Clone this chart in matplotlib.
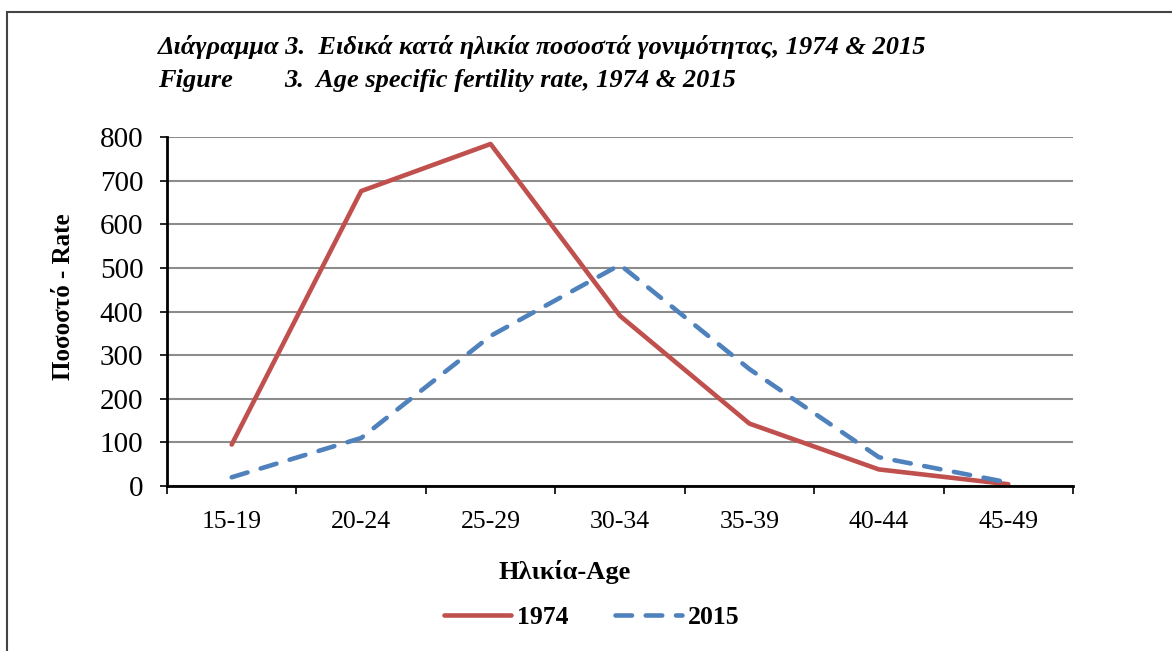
import numpy as np
import matplotlib.pyplot as plt
from matplotlib.patches import Rectangle

ages = ['15-19', '20-24', '25-29', '30-34', '35-39', '40-44', '45-49']
rate_1974 = [95, 676, 784, 390, 143, 38, 4]
rate_2015 = [20, 110, 344, 507, 268, 66, 8]

plt.rcParams['font.family'] = ['Liberation Serif', 'DejaVu Serif']
plt.rcParams['mathtext.default'] = 'regular'

W, H = 1172, 651
fig = plt.figure(figsize=(W/100, H/100), dpi=100)
ax = fig.add_axes([167/W, 1-486/H, (1073-167)/W, (486-137)/H])

x = np.arange(len(ages))
ax.plot(x, rate_1974, color='#C0504D', lw=3.3, solid_capstyle='round', label='1974')
ax.plot(x, rate_2015, color='#4F81BD', lw=3.3, dashes=(3.6, 3.0), dash_capstyle='round',
        label='2015')

ax.set_xlim(-0.5, len(ages)-0.5)
ax.set_ylim(0, 800)
ax.set_yticks(range(0, 801, 100))
ax.yaxis.grid(True, color='#8c8c8c', lw=1.5)
ax.set_axisbelow(True)
ax.set_xticks(x)
ax.set_xticklabels(ages)
ax.set_xticks(np.arange(-0.5, len(ages)), minor=True)
ax.tick_params(axis='x', which='major', length=0, pad=18, labelsize=18.5)
ax.tick_params(axis='x', which='minor', length=6, width=1.2, direction='out')
ax.tick_params(axis='y', length=5, width=1.2, direction='out', pad=12, labelsize=21)
for s in ['top', 'right']:
    ax.spines[s].set_visible(False)
for s in ['left', 'bottom']:
    ax.spines[s].set_linewidth(2)

ax.set_xlabel('Ηλικία-Age', fontsize=19, fontweight='bold', va='center')
ax.xaxis.set_label_coords((565-167)/906, (486-572)/349)
ax.set_ylabel('Ποσοστό - Rate', fontsize=18, fontweight='bold', va='center')
ax.yaxis.set_label_coords((63-167)/906, (486-297)/349)

fig.text(158/W, 1-47/H, 'Διάγραμμα 3.  Ειδικά κατά ηλικία ποσοστά γονιμότητας, 1974 & 2015',
         fontsize=19, fontweight='bold', style='italic', va='center')
fig.text(158/W, 1-80/H, 'Figure', fontsize=19, fontweight='bold', style='italic', va='center')
fig.text(284/W, 1-80/H, '3.  Age specific fertility rate, 1974 & 2015',
         fontsize=19, fontweight='bold', style='italic', va='center')

fig.legend(loc='center', bbox_to_anchor=(592/W, 1-617/H), ncol=2, frameon=False,
           prop={'weight': 'bold', 'size': 18.5}, handlelength=2.6, columnspacing=1.8,
           handletextpad=0.25)

fig.patches.append(Rectangle((7/W, -0.1), 1.2, 1-12/H+0.1, transform=fig.transFigure,
                             fill=False, edgecolor='#444444', lw=1.5))

plt.savefig('out.png', dpi=100)
